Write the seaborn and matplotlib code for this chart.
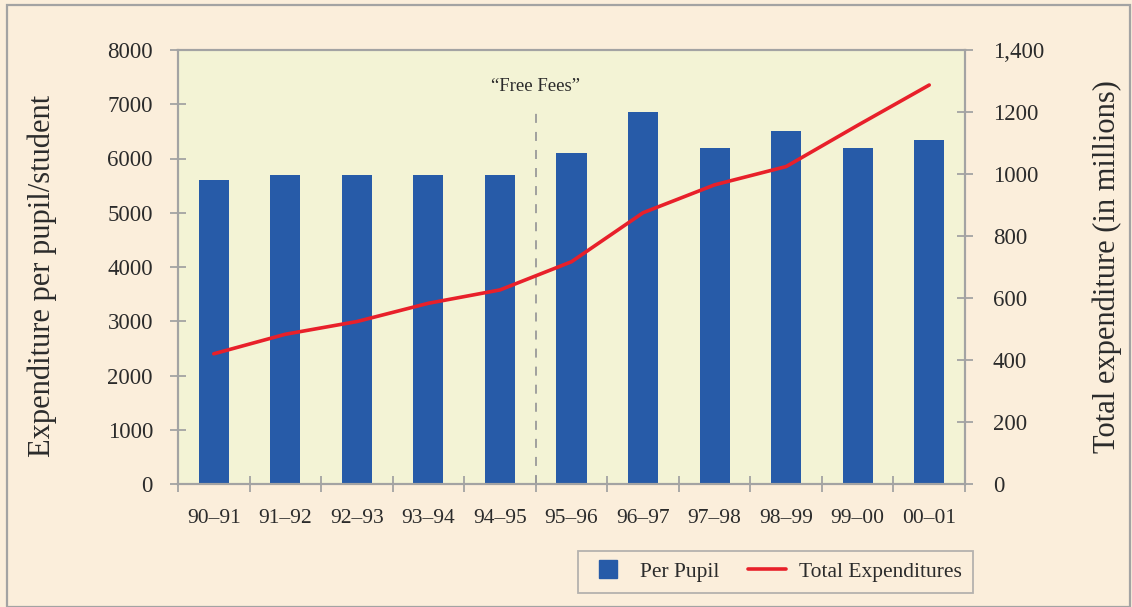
import numpy as np
import pandas as pd
import matplotlib
matplotlib.use("Agg")
import matplotlib.pyplot as plt
import seaborn as sns
from matplotlib.lines import Line2D
from matplotlib.patches import Rectangle

years = ["90–91", "91–92", "92–93", "93–94", "94–95", "95–96",
         "96–97", "97–98", "98–99", "99–00", "00–01"]
per_pupil = [5600, 5700, 5700, 5700, 5700, 6100, 6850, 6200, 6500, 6200, 6350]
total_exp = [420, 483, 524, 583, 626, 717, 875, 965, 1024, 1157, 1287]
left_ticks = [0, 1000, 2000, 3000, 4000, 5000, 6000, 7000, 8000]
right_ticks = [0, 200, 400, 600, 800, 1000, 1200, 1400]
right_labels = ["0", "200", "400", "600", "800", "1000", "1200", "1,400"]

df = pd.DataFrame({"year": years, "per_pupil": per_pupil, "total": total_exp})

sns.set_theme(style="white")
plt.rcParams["font.family"] = ["Liberation Serif", "DejaVu Serif"]

BG = "#fbeedb"
PLOT_BG = "#f3f3d5"
BLUE = "#275ba8"
RED = "#e8202a"
GREY = "#a3a3a3"
TXT = "#2b2b2b"

fig = plt.figure(figsize=(11.32, 6.07), dpi=100, facecolor=BG)
ax = fig.add_axes([178/1132, 1-484/607, (965-178)/1132, (484-50)/607])
ax.set_facecolor(PLOT_BG)

sns.barplot(data=df, x="year", y="per_pupil", color=BLUE, width=0.42,
            saturation=1, linewidth=0, edgecolor=BLUE, ax=ax, zorder=2)
ax.set_xlim(-0.5, len(years)-0.5)
ax.set_ylim(0, 8000)
ax.set_yticks(left_ticks)
ax.set_yticklabels([str(t) for t in left_ticks])
ax.set_xlabel("")
ax.set_ylabel("Expenditure per pupil/student", fontsize=22, color=TXT)
ax.yaxis.set_label_coords(-121/787, 0.48)

ax2 = ax.twinx()
sns.lineplot(data=df, x="year", y="total", color=RED, lw=2.6, ax=ax2,
             sort=False, zorder=3)
ax2.set_ylim(0, 1400)
ax2.set_yticks(right_ticks)
ax2.set_yticklabels(right_labels)
ax2.set_ylabel("Total expenditure (in millions)", fontsize=22, color=TXT)
ax2.yaxis.set_label_coords(1 + 127/787, 0.5)
ax2.set_xlabel("")

# "Free Fees" marker
ax.axvline(4.5, ymin=0, ymax=(484-108)/434, color="#9a9a9a", lw=1.3,
           ls=(0, (5, 5)), zorder=1)
ax.text(4.5, 7320, "\u201cFree Fees\u201d", ha="center", va="center",
        fontsize=13.5, color=TXT)

for a in (ax, ax2):
    for s in a.spines.values():
        s.set_color(GREY)
        s.set_linewidth(1.5)
        s.set_visible(True)

ax.tick_params(axis="y", direction="inout", length=12, width=1.3, color=GREY,
               labelsize=16.5, labelcolor=TXT, pad=12, left=True)
ax2.tick_params(axis="y", direction="inout", length=12, width=1.3, color=GREY,
                labelsize=16.5, labelcolor=TXT, pad=14, right=True)
ax.set_xticks(np.arange(len(years)))
ax.set_xticklabels(years)
ax.set_xticks(np.arange(-0.5, len(years)), minor=True)
ax.tick_params(axis="x", which="major", length=0, labelsize=15.5, labelcolor=TXT, pad=18)
ax.tick_params(axis="x", which="minor", direction="inout", length=12, width=1.3,
               color=GREY, bottom=True)

handles = [Line2D([0], [0], marker="s", color="none", markerfacecolor=BLUE,
                  markeredgecolor=BLUE, markersize=13, label="Per Pupil"),
           Line2D([0], [0], color=RED, lw=2.6, label="Total Expenditures")]
leg = fig.legend(handles=handles, loc="center", bbox_to_anchor=(0.685, 0.058),
                 ncol=2, frameon=True, fontsize=15.5, fancybox=False,
                 handlelength=1.8, columnspacing=1.3, borderpad=0.5,
                 handletextpad=0.6)
leg.get_frame().set_facecolor(BG)
leg.get_frame().set_edgecolor(GREY)
leg.get_frame().set_linewidth(1.3)
for t in leg.get_texts():
    t.set_color(TXT)

fig.patches.append(Rectangle((7/1132, 0.0), 1-9/1132, 1-5/607, transform=fig.transFigure,
                             fill=False, edgecolor=GREY, lw=1.6))

fig.savefig("out.png", dpi=100, facecolor=BG)
